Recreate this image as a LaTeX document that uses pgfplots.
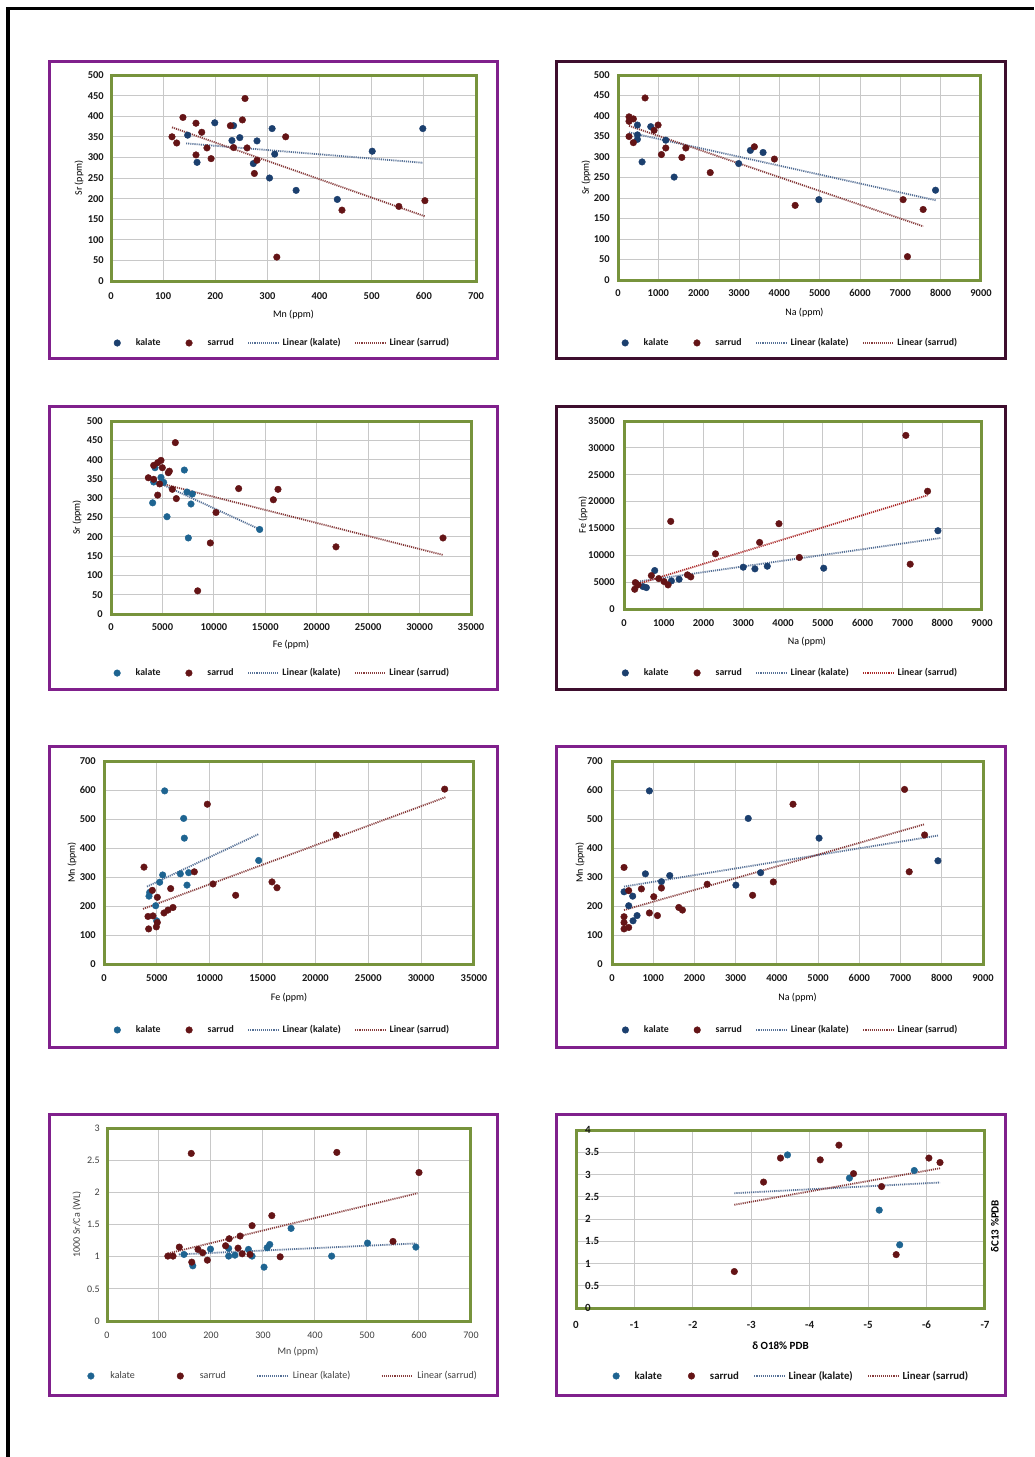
\documentclass[border=0pt]{standalone}
\usepackage{fontspec}
\setmainfont{Carlito}
\usepackage{pgfplots}
\pgfplotsset{compat=1.18}
\definecolor{greenC}{RGB}{119,147,60}
\definecolor{gridC}{RGB}{200,200,200}
\definecolor{purpC}{RGB}{128,32,140}
\definecolor{darkC}{RGB}{62,14,46}
\definecolor{kalC}{RGB}{27,63,110}
\definecolor{kalT}{RGB}{30,100,145}
\definecolor{sarC}{RGB}{100,20,22}
\definecolor{kaltrC}{RGB}{85,112,150}
\definecolor{sartrC}{RGB}{135,60,60}
\definecolor{txtC}{RGB}{25,25,25}
\pgfplotsset{
  markleg/.style={legend image code/.code={\path[draw=none,fill=none] (0pt,-3pt) rectangle (30pt,3pt);
     \draw[mark repeat=2,mark phase=2,##1] plot coordinates {(0pt,0pt) (15pt,0pt) (30pt,0pt)};}},
  lineleg/.style={legend image code/.code={\draw[##1,/tikz/.search also={/pgfplots}] (0pt,0pt) -- (30pt,0pt);}},
  kal/.style={only marks, mark=*, mark size=3.3pt, color=kalC, markleg},
  kalt/.style={only marks, mark=*, mark size=3.3pt, color=kalT, markleg},
  sar/.style={only marks, mark=*, mark size=3.3pt, color=sarC, markleg},
  ktr/.style={no markers, color=kaltrC, line width=1.8pt, dash pattern=on 1.1pt off 1pt, lineleg},
  str/.style={no markers, color=sartrC, line width=1.8pt, dash pattern=on 1.1pt off 1pt, lineleg},
  panel/.style={
    scale only axis, anchor=north west,
    axis line style={draw=greenC, line width=3pt, line cap=rect},
    grid=major, grid style={draw=gridC, line width=1pt},
    major tick length=0pt, tick style={draw=none},
    scaled ticks=false,
    /pgf/number format/1000 sep={},
    /pgf/number format/assume math mode=true,
    tick label style={font=\fontsize{10.5}{13}\selectfont\bfseries, inner sep=0pt, text=txtC},
    label style={font=\fontsize{10.5}{13}\selectfont\bfseries, text=txtC},
    every axis x label/.style={at={(axis description cs:0.5,0)}, anchor=center},
    every axis y label/.style={at={(axis description cs:-0.088,0.5)}, anchor=center, rotate=90},
    legend columns=4,
    legend cell align=left,
    legend style={draw=none, fill=none, anchor=center, inner sep=0pt, text=txtC,
      font=\fontsize{9.8}{12}\selectfont\bfseries, nodes={inner sep=0.5pt},
      /tikz/every odd column/.style={column sep=3pt},
      /tikz/every even column/.style={column sep=13pt}},
  },
}
\begin{document}
\begin{tikzpicture}
\useasboundingbox (0pt,0pt) rectangle (1034pt,-1457pt);
\fill[white] (0pt,0pt) rectangle (1034pt,-1457pt);
\draw[black, line width=3.5pt] (8pt,-1457pt) -- (8pt,-8.5pt) -- (1034pt,-8.5pt);
% panel frames
\draw[purpC, line width=3pt] (49.5pt,-61.5pt) rectangle (497.5pt,-358.5pt);
\draw[darkC, line width=3pt] (556.5pt,-61.5pt) rectangle (1005.5pt,-358.5pt);
\draw[purpC, line width=3pt] (49.5pt,-406.5pt) rectangle (497.5pt,-689pt);
\draw[darkC, line width=3pt] (556.5pt,-406.5pt) rectangle (1005.5pt,-689pt);
\draw[purpC, line width=3pt] (49.5pt,-746.5pt) rectangle (497.5pt,-1047pt);
\draw[purpC, line width=3pt] (556.5pt,-746.5pt) rectangle (1005.5pt,-1047pt);
\draw[purpC, line width=3pt] (49.5pt,-1114.5pt) rectangle (497.5pt,-1395.5pt);
\draw[purpC, line width=3pt] (556.5pt,-1114.5pt) rectangle (1005.5pt,-1395.5pt);

% ---------- Panel 1: Sr vs Mn ----------
\begin{axis}[panel, at={(111pt,-75pt)}, width=365pt, height=206pt,
  xmin=0, xmax=700, ymin=0, ymax=500, xtick distance=100, ytick distance=50,
  xticklabel style={anchor=center, yshift=-15pt},
  yticklabel style={anchor=east, xshift=-7pt},
  xlabel={Mn (ppm)}, ylabel={Sr (ppm)},
  xlabel style={yshift=-34pt}, ylabel style={at={(axis description cs:-0.0877,0.5)}},
  legend style={at={(axis description cs:0.452,-0.301)}}]
\addplot[kal] coordinates {(147,354) (165,288) (199,384) (232,341) (235,377) (247,348) (280,340) (273,285) (304,250) (309,370) (314,308) (355,220) (434,198) (501,315) (598,370)};
\addplot[sar] coordinates {(117,350) (126,335) (138,397) (163,383) (163,306) (174,361) (184,323) (192,297) (229,377) (235,324) (252,391) (257,443) (261,323) (275,261) (280,293) (318,58) (335,350) (443,172) (552,181) (602,195)};
\addplot[ktr] coordinates {(144,334) (598,287)};
\addplot[str] coordinates {(117,373) (602,157)};
\legend{kalate, sarrud, Linear (kalate), Linear (sarrud)}
\end{axis}

% ---------- Panel 2: Sr vs Na ----------
\begin{axis}[panel, at={(618pt,-75pt)}, width=363pt, height=205pt,
  xmin=0, xmax=9000, ymin=0, ymax=500, xtick distance=1000, ytick distance=50,
  xticklabel style={anchor=center, yshift=-13pt},
  yticklabel style={anchor=east, xshift=-8pt},
  xlabel={Na (ppm)}, ylabel={Sr (ppm)},
  xlabel style={yshift=-33pt, xshift=5pt}, ylabel style={at={(axis description cs:-0.0882,0.5)}},
  legend style={at={(axis description cs:0.457,-0.307)}}]
\addplot[kal] coordinates {(481,378) (481,354) (481,343) (597,288) (812,374) (1185,341) (1392,251) (2992,284) (3282,316) (3597,311) (4980,196) (7873,219)};
\addplot[sar] coordinates {(273,398) (273,387) (381,393) (273,350) (381,335) (671,444) (895,365) (994,378) (1077,306) (1185,322) (1583,299) (1682,322) (2287,262) (3381,325) (3878,295) (4392,182) (7069,196) (7177,57) (7566,172)};
\addplot[ktr] coordinates {(273,360) (7898,194)};
\addplot[str] coordinates {(273,376) (7566,131)};
\legend{kalate, sarrud, Linear (kalate), Linear (sarrud)}
\end{axis}

% ---------- Panel 3: Sr vs Fe ----------
\begin{axis}[panel, at={(111pt,-421pt)}, width=360pt, height=193pt,
  xmin=0, xmax=35000, ymin=0, ymax=500, xtick distance=5000, ytick distance=50,
  xticklabel style={anchor=center, yshift=-13pt},
  yticklabel style={anchor=east, xshift=-8pt},
  xlabel={Fe (ppm)}, ylabel={Sr (ppm)},
  xlabel style={yshift=-31pt}, ylabel style={at={(axis description cs:-0.0944,0.5)}},
  legend style={at={(axis description cs:0.458,-0.306)}}]
\addplot[kalt] coordinates {(4051,288) (4148,342) (4278,379) (4861,354) (5120,341) (5444,252) (7130,373) (7389,316) (7519,197) (7778,285) (7907,311) (14454,219)};
\addplot[sar] coordinates {(3630,353) (4148,349) (4148,385) (4537,392) (4861,398) (4991,379) (4731,337) (4537,308) (5574,366) (5671,370) (5963,323) (6255,444) (6352,299) (8426,60) (9657,184) (10208,263) (12412,325) (15783,296) (16236,323) (21875,174) (32278,197)};
\addplot[ktr] coordinates {(5023,335) (14486,219)};
\addplot[str] coordinates {(5023,337) (32278,153)};
\legend{kalate, sarrud, Linear (kalate), Linear (sarrud)}
\end{axis}

% ---------- Panel 4: Fe vs Na ----------
\begin{axis}[panel, at={(624pt,-421pt)}, width=358pt, height=188pt,
  xmin=0, xmax=9000, ymin=0, ymax=35000, xtick distance=1000, ytick distance=5000,
  xticklabel style={anchor=center, yshift=-14pt},
  yticklabel style={anchor=east, xshift=-9pt},
  xlabel={Na (ppm)}, ylabel={Fe (ppm)},
  xlabel style={yshift=-33pt, xshift=4pt}, ylabel style={at={(axis description cs:-0.1145,0.5)}},
  legend style={at={(axis description cs:0.447,-0.340)}}]
\addplot[kal] coordinates {(479,4173) (562,3986) (772,7162) (1192,5231) (1385,5543) (2997,7785) (3291,7473) (3602,7971) (5021,7598) (7892,14573)};
\addplot[sar] coordinates {(269,3674) (285,4920) (353,4484) (688,6228) (873,5667) (1007,5107) (1108,4484) (1175,16317) (1595,6352) (1679,5979) (2300,10276) (3409,12393) (3896,15881) (4408,9591) (7086,32322) (7195,8345) (7632,21922)};
\addplot[ktr] coordinates {(353,5107) (7950,13203)};
\addplot[str, color=sartrC!70!red] coordinates {(353,4671) (7632,21174)};
\legend{kalate, sarrud, Linear (kalate), Linear (sarrud)}
\end{axis}

% ---------- Panel 5: Mn vs Fe ----------
\begin{axis}[panel, at={(104pt,-761pt)}, width=370pt, height=203pt,
  xmin=0, xmax=35000, ymin=0, ymax=700, xtick distance=5000, ytick distance=100,
  xticklabel style={anchor=center, yshift=-14pt},
  yticklabel style={anchor=east, xshift=-8pt},
  xlabel={Fe (ppm)}, ylabel={Mn (ppm)},
  xlabel style={yshift=-34pt}, ylabel style={at={(axis description cs:-0.0865,0.5)}},
  legend style={at={(axis description cs:0.465,-0.325)}}]
\addplot[kalt] coordinates {(4257,234) (4320,247) (4887,201) (4982,149) (5266,282) (5550,307) (5739,597) (7221,311) (7536,502) (7599,434) (7851,272) (8009,315) (14631,357)};
\addplot[sar] coordinates {(3784,334) (4162,164) (4225,121) (4572,254) (4635,166) (5045,230) (4950,128) (5045,143) (5676,176) (6054,186) (6306,260) (6527,195) (8545,318) (9775,551) (10311,276) (12455,237) (15892,283) (16365,263) (21978,445) (32226,603)};
\addplot[ktr] coordinates {(4068,267) (14631,448)};
\addplot[str] coordinates {(3689,190) (32289,575)};
\legend{kalate, sarrud, Linear (kalate), Linear (sarrud)}
\end{axis}

% ---------- Panel 6: Mn vs Na ----------
\begin{axis}[panel, at={(612pt,-761pt)}, width=371pt, height=203pt,
  xmin=0, xmax=9000, ymin=0, ymax=700, xtick distance=1000, ytick distance=100,
  xticklabel style={anchor=center, yshift=-14pt},
  yticklabel style={anchor=east, xshift=-9pt},
  xlabel={Na (ppm)}, ylabel={Mn (ppm)},
  xlabel style={yshift=-34pt}, ylabel style={at={(axis description cs:-0.0863,0.5)}},
  legend style={at={(axis description cs:0.464,-0.325)}}]
\addplot[kal] coordinates {(292,249) (405,201) (502,234) (510,149) (608,167) (810,311) (907,597) (1199,284) (1401,305) (3005,272) (3305,502) (3605,315) (5023,434) (7907,356)};
\addplot[sar] coordinates {(292,333) (292,163) (292,143) (292,121) (405,253) (405,126) (713,259) (907,176) (1013,232) (1102,167) (1199,262) (1620,195) (1709,186) (2309,275) (3411,237) (3913,283) (4391,551) (7097,602) (7210,318) (7583,445)};
\addplot[ktr] coordinates {(292,267) (7907,443)};
\addplot[str] coordinates {(292,186) (7583,482)};
\legend{kalate, sarrud, Linear (kalate), Linear (sarrud)}
\end{axis}

% ---------- Panel 7: 1000 Sr/Ca vs Mn ----------
\begin{axis}[panel, at={(107pt,-1128pt)}, width=364pt, height=193pt,
  xmin=0, xmax=700, ymin=0, ymax=3, xtick distance=100, ytick distance=0.5,
  tick label style={text=black!75, font=\fontsize{10}{12}\selectfont},
  label style={text=black!75, font=\fontsize{10}{12}\selectfont},
  xticklabel style={anchor=center, yshift=-14pt},
  yticklabel style={anchor=east, xshift=-7pt},
  xlabel={Mn (ppm)}, ylabel={1000 Sr/Ca (WL)},
  xlabel style={yshift=-31pt, xshift=9pt}, ylabel style={at={(axis description cs:-0.0824,0.5)}},
  legend style={at={(axis description cs:0.466,-0.285)}, text=black!75, font=\fontsize{10}{12}\selectfont,
     /tikz/every odd column/.style={column sep=4pt},
     /tikz/every even column/.style={column sep=30pt}}]
\addplot[kalt] coordinates {(148,1.035) (165,0.858) (199,1.118) (234,1.128) (234,1.009) (246,1.024) (272,1.113) (279,1.009) (302,0.837) (308,1.139) (313,1.19) (354,1.44) (432,1.009) (501,1.211) (594,1.149)};
\addplot[sar] coordinates {(117,1.009) (127,1.009) (139,1.149) (162,2.605) (163,0.915) (175,1.113) (184,1.061) (193,0.946) (228,1.17) (235,1.279) (252,1.133) (256,1.321) (260,1.045) (275,1.035) (279,1.482) (317,1.638) (333,0.998) (442,2.621) (550,1.237) (600,2.308)};
\addplot[ktr] coordinates {(138,1.035) (595,1.206)};
\addplot[str] coordinates {(117,1.05) (597,1.986)};
\legend{kalate, sarrud, Linear (kalate), Linear (sarrud)}
\end{axis}

% ---------- Panel 8: d13C vs d18O ----------
\begin{axis}[panel, at={(576pt,-1130pt)}, width=409pt, height=178pt,
  x dir=reverse,
  xmin=-7, xmax=0, ymin=0, ymax=4, xtick distance=1, ytick distance=0.5,
  tick label style={font=\fontsize{11}{13}\selectfont\bfseries},
  label style={font=\fontsize{11}{13}\selectfont\bfseries},
  xticklabel style={anchor=center, yshift=-17pt},
  yticklabel style={anchor=west, xshift=9pt},
  xlabel={δ O18\% PDB}, ylabel={δC13 \%PDB},
  xlabel style={yshift=-38pt},
  ylabel style={at={(axis description cs:1.0244,0.46)}},
  legend style={at={(axis description cs:0.511,-0.382)}, font=\fontsize{10.8}{13}\selectfont\bfseries,
     /tikz/every even column/.style={column sep=14pt}}]
\addplot[kalt] coordinates {(-3.62,3.44) (-4.68,2.92) (-5.19,2.20) (-5.54,1.42) (-5.79,3.09)};
\addplot[sar] coordinates {(-2.71,0.82) (-3.21,2.83) (-3.50,3.37) (-4.18,3.33) (-4.50,3.66) (-4.75,3.02) (-5.23,2.73) (-5.48,1.20) (-6.04,3.37) (-6.23,3.27)};
\addplot[ktr] coordinates {(-2.71,2.58) (-6.23,2.82)};
\addplot[str] coordinates {(-2.71,2.32) (-6.23,3.14)};
\legend{kalate, sarrud, Linear (kalate), Linear (sarrud)}
\end{axis}
\end{tikzpicture}
\end{document}
